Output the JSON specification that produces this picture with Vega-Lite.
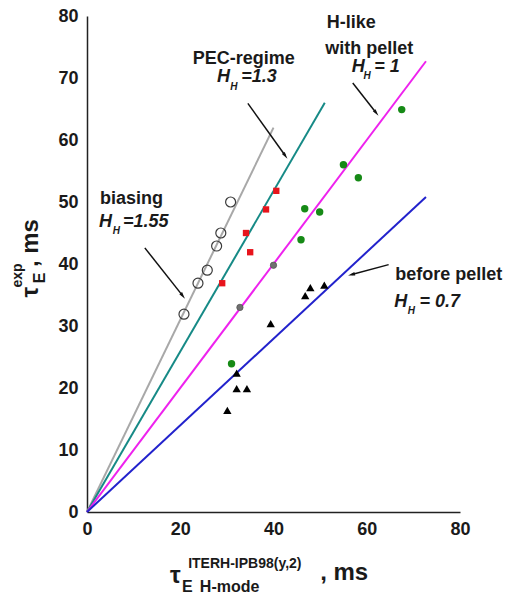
{
  "$schema": "https://vega.github.io/schema/vega-lite/v6.json",
  "width": 373,
  "height": 496,
  "autosize": "none",
  "padding": {"left": 87, "top": 16, "right": 60, "bottom": 82},
  "background": "white",
  "config": {
    "view": {"stroke": null},
    "font": "Liberation Sans",
    "text": {"font": "Liberation Sans", "fontWeight": "bold", "color": "#1a1a1a", "align": "left", "baseline": "alphabetic"}
  },
  "datasets": {
    "lines": [
      {"s": "bias", "x": 0, "y": 0}, {"s": "bias", "x": 40, "y": 62},
      {"s": "pec", "x": 0, "y": 0}, {"s": "pec", "x": 51, "y": 66},
      {"s": "hlike", "x": 0, "y": 0}, {"s": "hlike", "x": 72.7, "y": 72.7},
      {"s": "before", "x": 0, "y": 0}, {"s": "before", "x": 72.7, "y": 50.8}
    ],
    "xmaj": [{"v": 0}, {"v": 20}, {"v": 40}, {"v": 60}, {"v": 80}],
    "xmin": [{"v": 5}, {"v": 10}, {"v": 15}, {"v": 25}, {"v": 30}, {"v": 35}, {"v": 45}, {"v": 50}, {"v": 55}, {"v": 65}, {"v": 70}, {"v": 75}],
    "ymaj": [{"v": 0}, {"v": 10}, {"v": 20}, {"v": 30}, {"v": 40}, {"v": 50}, {"v": 60}, {"v": 70}, {"v": 80}],
    "ymin": [{"v": 5}, {"v": 15}, {"v": 25}, {"v": 35}, {"v": 45}, {"v": 55}, {"v": 65}, {"v": 75}],
    "pts": [
      {"g": "bias", "x": 30.8, "y": 50.0}, {"g": "bias", "x": 28.7, "y": 45.0}, {"g": "bias", "x": 27.8, "y": 42.9},
      {"g": "bias", "x": 25.8, "y": 39.0}, {"g": "bias", "x": 23.8, "y": 36.9}, {"g": "bias", "x": 20.8, "y": 31.9},
      {"g": "pec", "x": 40.6, "y": 51.8}, {"g": "pec", "x": 38.4, "y": 48.8}, {"g": "pec", "x": 34.1, "y": 45.0},
      {"g": "pec", "x": 35.0, "y": 41.9}, {"g": "pec", "x": 29.0, "y": 36.9},
      {"g": "gray", "x": 40.0, "y": 39.8}, {"g": "gray", "x": 32.8, "y": 33.0},
      {"g": "hlike", "x": 67.5, "y": 64.9}, {"g": "hlike", "x": 55.0, "y": 56.0}, {"g": "hlike", "x": 58.2, "y": 53.9},
      {"g": "hlike", "x": 46.7, "y": 48.9}, {"g": "hlike", "x": 49.9, "y": 48.4}, {"g": "hlike", "x": 45.9, "y": 43.9},
      {"g": "hlike", "x": 31.0, "y": 23.9},
      {"g": "before", "x": 39.4, "y": 30.4}, {"g": "before", "x": 32.1, "y": 22.4}, {"g": "before", "x": 32.1, "y": 19.9},
      {"g": "before", "x": 34.3, "y": 19.9}, {"g": "before", "x": 30.1, "y": 16.4}, {"g": "before", "x": 46.8, "y": 34.9},
      {"g": "before", "x": 47.9, "y": 36.2}, {"g": "before", "x": 50.9, "y": 36.6}
    ],
    "arrows": [
      {"a": "bias", "x": 12.4, "y": 42.6, "x2": 20.5, "y2": 34.9},
      {"a": "pec", "x": 34.5, "y": 65.9, "x2": 42.5, "y2": 57.5},
      {"a": "hlike", "x": 57.0, "y": 69.2, "x2": 62.0, "y2": 64.4},
      {"a": "before", "x": 64.7, "y": 39.9, "x2": 56.8, "y2": 38.3}
    ],
    "ann": [
      {"r": "lab", "x": 2.8, "y": 49.7, "t": "biasing"},
      {"r": "lab", "x": 22.7, "y": 72.3, "t": "PEC-regime"},
      {"r": "lab", "x": 51.4, "y": 78.0, "t": "H-like"},
      {"r": "lab", "x": 51.1, "y": 73.9, "t": "with pellet"},
      {"r": "lab", "x": 66.1, "y": 37.5, "t": "before pellet"},
      {"r": "hh", "x": 2.6, "y": 46.0, "t": "H"}, {"r": "hh", "x": 7.7, "y": 46.0, "t": "=1.55"},
      {"r": "hh", "x": 27.9, "y": 69.4, "t": "H"}, {"r": "hh", "x": 33.1, "y": 69.4, "t": "=1.3"},
      {"r": "hh", "x": 56.8, "y": 71.0, "t": "H"}, {"r": "hh", "x": 61.6, "y": 71.0, "t": "= 1"},
      {"r": "hh", "x": 65.9, "y": 33.1, "t": "H"}, {"r": "hh", "x": 71.3, "y": 33.1, "t": "= 0.7"},
      {"r": "hsub", "x": 5.5, "y": 44.9, "t": "H"}, {"r": "hsub", "x": 30.7, "y": 68.0, "t": "H"},
      {"r": "hsub", "x": 59.3, "y": 69.9, "t": "H"}, {"r": "hsub", "x": 68.8, "y": 32.0, "t": "H"},
      {"r": "big", "x": 17.8, "y": -11.5, "t": "τ"},
      {"r": "mid", "x": 20.4, "y": -12.9, "t": "E"},
      {"r": "mid", "x": 24.2, "y": -12.9, "t": "H-mode"},
      {"r": "small", "x": 21.7, "y": -9.1, "t": "ITERH-IPB98(y,2)"},
      {"r": "big", "x": 50.0, "y": -11.0, "t": ", ms"},
      {"r": "ybig", "x": -10.5, "y": 34.6, "t": "τ"},
      {"r": "ymid", "x": -9.0, "y": 36.9, "t": "E"},
      {"r": "ysmall", "x": -13.9, "y": 36.2, "t": "exp"},
      {"r": "ybig", "x": -10.5, "y": 39.5, "t": ", ms"}
    ]
  },
  "encoding": {
    "x": {"field": "x", "type": "quantitative", "scale": {"domain": [0, 80], "nice": false, "zero": false}},
    "y": {"field": "y", "type": "quantitative", "scale": {"domain": [0, 80], "nice": false, "zero": false}}
  },
  "layer": [
    {
      "data": {"name": "lines"},
      "mark": {"type": "line", "strokeWidth": 2, "clip": false},
      "encoding": {
        "x": {"field": "x", "type": "quantitative",
          "axis": {"values": [0, 20, 40, 60, 80],
            "title": null, "grid": false, "domainColor": "#222", "domainWidth": 1.5, "ticks": false,
            "labelFont": "Liberation Sans", "labelFontWeight": "bold", "labelFontSize": 18, "labelColor": "#1a1a1a", "labelPadding": 8, "labelFlush": false, "labelOverlap": false}},
        "y": {"field": "y", "type": "quantitative",
          "axis": {"values": [0, 10, 20, 30, 40, 50, 60, 70, 80],
            "title": null, "grid": false, "domainColor": "#222", "domainWidth": 1.5, "ticks": false,
            "labelFont": "Liberation Sans", "labelFontWeight": "bold", "labelFontSize": 18, "labelColor": "#1a1a1a", "labelPadding": 9, "labelFlush": false, "labelOverlap": false}},
        "detail": {"field": "s"},
        "color": {"field": "s", "type": "nominal", "legend": null,
          "scale": {"domain": ["bias", "pec", "hlike", "before"], "range": ["#a8a8a8", "#168a86", "#ee22ee", "#2222cc"]}},
        "strokeWidth": {"field": "s", "type": "nominal", "legend": null,
          "scale": {"domain": ["bias", "pec", "hlike", "before"], "range": [1, 2, 2, 2]}}
      }
    },
    {
      "data": {"name": "xmaj"},
      "mark": {"type": "tick", "orient": "vertical", "color": "#222", "thickness": 1.4, "size": 7, "opacity": 1},
      "encoding": {"x": {"field": "v", "type": "quantitative"}, "y": {"datum": 0.56, "type": "quantitative"}}
    },
    {
      "data": {"name": "xmin"},
      "mark": {"type": "tick", "orient": "vertical", "color": "#222", "thickness": 1.2, "size": 4, "opacity": 1},
      "encoding": {"x": {"field": "v", "type": "quantitative"}, "y": {"datum": 0.32, "type": "quantitative"}}
    },
    {
      "data": {"name": "ymaj"},
      "mark": {"type": "tick", "orient": "horizontal", "color": "#222", "thickness": 1.4, "size": 7, "opacity": 1},
      "encoding": {"y": {"field": "v", "type": "quantitative"}, "x": {"datum": 0.75, "type": "quantitative"}}
    },
    {
      "data": {"name": "ymin"},
      "mark": {"type": "tick", "orient": "horizontal", "color": "#222", "thickness": 1.2, "size": 4, "opacity": 1},
      "encoding": {"y": {"field": "v", "type": "quantitative"}, "x": {"datum": 0.43, "type": "quantitative"}}
    },
    {
      "data": {"name": "xmaj"},
      "mark": {"type": "rule", "color": "#222", "strokeWidth": 1.4},
      "encoding": {"x": {"field": "v", "type": "quantitative"}, "y": {"datum": 0, "type": "quantitative"}, "y2": {"datum": 1.13}}
    },
    {
      "data": {"name": "ymaj"},
      "mark": {"type": "rule", "color": "#222", "strokeWidth": 1.4},
      "encoding": {"y": {"field": "v", "type": "quantitative"}, "x": {"datum": 0, "type": "quantitative"}, "x2": {"datum": 1.5}}
    },
    {
      "data": {"name": "pts"},
      "transform": [{"filter": "datum.g === 'bias'"}],
      "mark": {"type": "point", "shape": "circle", "filled": false, "stroke": "#3a3a3a", "strokeWidth": 1.2, "size": 100, "opacity": 1}
    },
    {
      "data": {"name": "pts"},
      "transform": [{"filter": "datum.g === 'pec'"}],
      "mark": {"type": "point", "shape": "square", "filled": true, "color": "#e8141c", "size": 40, "opacity": 1}
    },
    {
      "data": {"name": "pts"},
      "transform": [{"filter": "datum.g === 'gray'"}],
      "mark": {"type": "point", "shape": "circle", "filled": true, "fill": "#707070", "stroke": "#555", "strokeWidth": 0.8, "size": 40, "opacity": 1}
    },
    {
      "data": {"name": "pts"},
      "transform": [{"filter": "datum.g === 'hlike'"}],
      "mark": {"type": "point", "shape": "circle", "filled": true, "color": "#168a16", "size": 55, "opacity": 1}
    },
    {
      "data": {"name": "pts"},
      "transform": [{"filter": "datum.g === 'before'"}],
      "mark": {"type": "point", "shape": "triangle-up", "filled": true, "color": "#000000", "size": 70, "opacity": 1}
    },
    {
      "data": {"name": "arrows"},
      "mark": {"type": "rule", "color": "#111", "strokeWidth": 1.5},
      "encoding": {"x2": {"field": "x2"}, "y2": {"field": "y2"}}
    },
    {
      "data": {"name": "arrows"},
      "transform": [{"filter": "datum.a === 'bias'"}],
      "mark": {"type": "point", "shape": "M0,-1L0.45,0.8L-0.45,0.8Z", "filled": true, "color": "#111", "size": 60, "angle": 142, "opacity": 1},
      "encoding": {"x": {"field": "x2", "type": "quantitative"}, "y": {"field": "y2", "type": "quantitative"}}
    },
    {
      "data": {"name": "arrows"},
      "transform": [{"filter": "datum.a === 'pec'"}],
      "mark": {"type": "point", "shape": "M0,-1L0.45,0.8L-0.45,0.8Z", "filled": true, "color": "#111", "size": 60, "angle": 144, "opacity": 1},
      "encoding": {"x": {"field": "x2", "type": "quantitative"}, "y": {"field": "y2", "type": "quantitative"}}
    },
    {
      "data": {"name": "arrows"},
      "transform": [{"filter": "datum.a === 'hlike'"}],
      "mark": {"type": "point", "shape": "M0,-1L0.45,0.8L-0.45,0.8Z", "filled": true, "color": "#111", "size": 60, "angle": 142, "opacity": 1},
      "encoding": {"x": {"field": "x2", "type": "quantitative"}, "y": {"field": "y2", "type": "quantitative"}}
    },
    {
      "data": {"name": "arrows"},
      "transform": [{"filter": "datum.a === 'before'"}],
      "mark": {"type": "point", "shape": "M0,-1L0.45,0.8L-0.45,0.8Z", "filled": true, "color": "#111", "size": 60, "angle": 255, "opacity": 1},
      "encoding": {"x": {"field": "x2", "type": "quantitative"}, "y": {"field": "y2", "type": "quantitative"}}
    },
    {
      "data": {"name": "ann"},
      "transform": [{"filter": "datum.r === 'lab'"}],
      "mark": {"type": "text", "fontSize": 18},
      "encoding": {"text": {"field": "t"}}
    },
    {
      "data": {"name": "ann"},
      "transform": [{"filter": "datum.r === 'hh'"}],
      "mark": {"type": "text", "fontSize": 18, "fontStyle": "italic"},
      "encoding": {"text": {"field": "t"}}
    },
    {
      "data": {"name": "ann"},
      "transform": [{"filter": "datum.r === 'hsub'"}],
      "mark": {"type": "text", "fontSize": 10, "fontStyle": "italic"},
      "encoding": {"text": {"field": "t"}}
    },
    {
      "data": {"name": "ann"},
      "transform": [{"filter": "datum.r === 'big'"}],
      "mark": {"type": "text", "fontSize": 24},
      "encoding": {"text": {"field": "t"}}
    },
    {
      "data": {"name": "ann"},
      "transform": [{"filter": "datum.r === 'mid'"}],
      "mark": {"type": "text", "fontSize": 16},
      "encoding": {"text": {"field": "t"}}
    },
    {
      "data": {"name": "ann"},
      "transform": [{"filter": "datum.r === 'small'"}],
      "mark": {"type": "text", "fontSize": 14},
      "encoding": {"text": {"field": "t"}}
    },
    {
      "data": {"name": "ann"},
      "transform": [{"filter": "datum.r === 'ybig'"}],
      "mark": {"type": "text", "fontSize": 24, "angle": 270},
      "encoding": {"text": {"field": "t"}}
    },
    {
      "data": {"name": "ann"},
      "transform": [{"filter": "datum.r === 'ymid'"}],
      "mark": {"type": "text", "fontSize": 16, "angle": 270},
      "encoding": {"text": {"field": "t"}}
    },
    {
      "data": {"name": "ann"},
      "transform": [{"filter": "datum.r === 'ysmall'"}],
      "mark": {"type": "text", "fontSize": 14, "angle": 270},
      "encoding": {"text": {"field": "t"}}
    }
  ]
}
